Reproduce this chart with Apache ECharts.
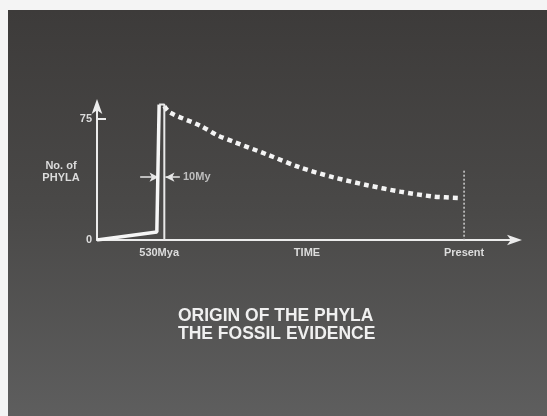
<!DOCTYPE html>
<html>
<head>
<meta charset="utf-8">
<script src="https://cdn.jsdelivr.net/npm/echarts@6/dist/echarts.min.js"></script>
<style>
html,body{margin:0;padding:0;background:#f4f4f4;}
#c{width:547px;height:416px;}
</style>
</head>
<body>
<div id="c"></div>
<script>
// x values: time in Mya shown as negative (past), 0 = Present
const xTickValues = [-530, 0];
const xTickLabels = ['530Mya', 'Present'];
const yTickValues = [0, 75];
const yTickLabels = ['0', '75'];

// Solid rise: slow increase then sudden jump at 530 Mya
const solidLine = [[-638, 0], [-534, 5], [-530, 84]];
// Second edge of the 10 My window
const edgeLine = [[-530, 84], [-521, 84], [-521, 0]];
// Dotted decline to present
const declineLine = [[-521, 83], [-511, 79], [-459, 71], [-429, 65], [-401, 61], [-342, 53],
  [-285, 45], [-228, 39], [-168, 34], [-111, 30], [-54, 27], [-5, 26]];
// Present marker
const presentLine = [[0, 43], [0, 0]];
// 10My annotation arrows
const arrowLeft = [[-563, 39], [-531, 39]];
const arrowRight = [[-494, 39], [-519, 39]];
const annotation = [[-492, 39, '10My']];

const W = '#ececec';
const LBL = '#dcdcdc';
const chart = echarts.init(document.getElementById('c'));
chart.setOption({
  animation: false,
  backgroundColor: '#f4f4f4',
  graphic: [{
    type: 'rect', z: -10, silent: true,
    shape: { x: 8, y: 10, width: 539, height: 406 },
    style: {
      fill: { type: 'linear', x: 0, y: 0, x2: 0, y2: 1, colorStops: [
        { offset: 0, color: '#3d3b3a' }, { offset: 0.5, color: '#4a4948' }, { offset: 1, color: '#5e5e5e' }] }
    }
  }, {
    type: 'text', left: 178, top: 307,
    style: { text: 'ORIGIN OF THE PHYLA\nTHE FOSSIL EVIDENCE', fill: '#f0f0f0',
      font: 'bold 17.5px "Liberation Sans", Arial, sans-serif', lineHeight: 18, align: 'left' }
  }],
  grid: { left: 97, right: 30, top: 103, bottom: 176 },
  xAxis: {
    type: 'value', min: -638, max: 92,
    name: 'TIME', nameLocation: 'middle', nameGap: 7, nameMoveOverlap: false,
    nameTextStyle: { color: LBL, fontSize: 11, fontWeight: 'bold', fontFamily: 'Liberation Sans',
      verticalAlign: 'top' },
    axisLine: { show: true, onZero: false, symbol: ['none', 'arrow'], symbolSize: [8, 15], symbolOffset: [0, 5],
      lineStyle: { color: W, width: 2 } },
    axisTick: { show: false },
    splitLine: { show: false },
    axisLabel: {
      customValues: xTickValues, margin: 7, color: LBL, fontSize: 11, fontWeight: 'bold',
      fontFamily: 'Liberation Sans',
      formatter: v => xTickLabels[xTickValues.indexOf(v)]
    }
  },
  yAxis: {
    type: 'value', min: 0, max: 85,
    name: 'No. of\nPHYLA', nameLocation: 'middle', nameGap: 36, nameRotate: 0, nameMoveOverlap: false,
    nameTextStyle: { color: LBL, fontSize: 11, fontWeight: 'bold', fontFamily: 'Liberation Sans',
      align: 'center', lineHeight: 12 },
    axisLine: { show: true, onZero: false, symbol: ['none', 'arrow'], symbolSize: [8, 15], symbolOffset: [0, 4],
      lineStyle: { color: W, width: 2 } },
    axisTick: { show: true, customValues: [75], inside: true, length: 9, lineStyle: { color: W, width: 2 } },
    splitLine: { show: false },
    axisLabel: {
      customValues: yTickValues, margin: 5, color: LBL, fontSize: 11, fontWeight: 'bold',
      fontFamily: 'Liberation Sans',
      formatter: v => yTickLabels[yTickValues.indexOf(v)]
    }
  },
  series: [
    { type: 'line', data: solidLine, symbol: 'none', lineStyle: { color: '#f6f6f6', width: 3.5 }, z: 5 },
    { type: 'line', data: edgeLine, symbol: 'none', lineStyle: { color: '#e8e8e8', width: 2 }, z: 5 },
    { type: 'line', data: declineLine, symbol: 'none', smooth: 0.3,
      lineStyle: { color: '#f4f4f4', width: 4.5, type: [5, 4], cap: 'butt' }, z: 4 },
    { type: 'line', data: presentLine, symbol: 'none', lineStyle: { color: '#d0d0d0', width: 1.5, type: [2, 2] } },
    { type: 'line', data: [], symbol: 'none',
      markLine: {
        silent: true, symbol: ['none', 'arrow'], symbolSize: [7, 9],
        lineStyle: { color: '#e6e6e6', width: 1.5, type: 'solid' }, label: { show: false },
        data: [
          [{ coord: arrowLeft[0] }, { coord: arrowLeft[1] }],
          [{ coord: arrowRight[0] }, { coord: arrowRight[1] }]
        ]
      }
    },
    { type: 'scatter', data: annotation, symbolSize: 0,
      label: { show: true, position: 'right', distance: 2, formatter: p => p.data[2], color: LBL,
        fontSize: 11, fontWeight: 'bold', fontFamily: 'Liberation Sans' } }
  ]
});
</script>
</body>
</html>
